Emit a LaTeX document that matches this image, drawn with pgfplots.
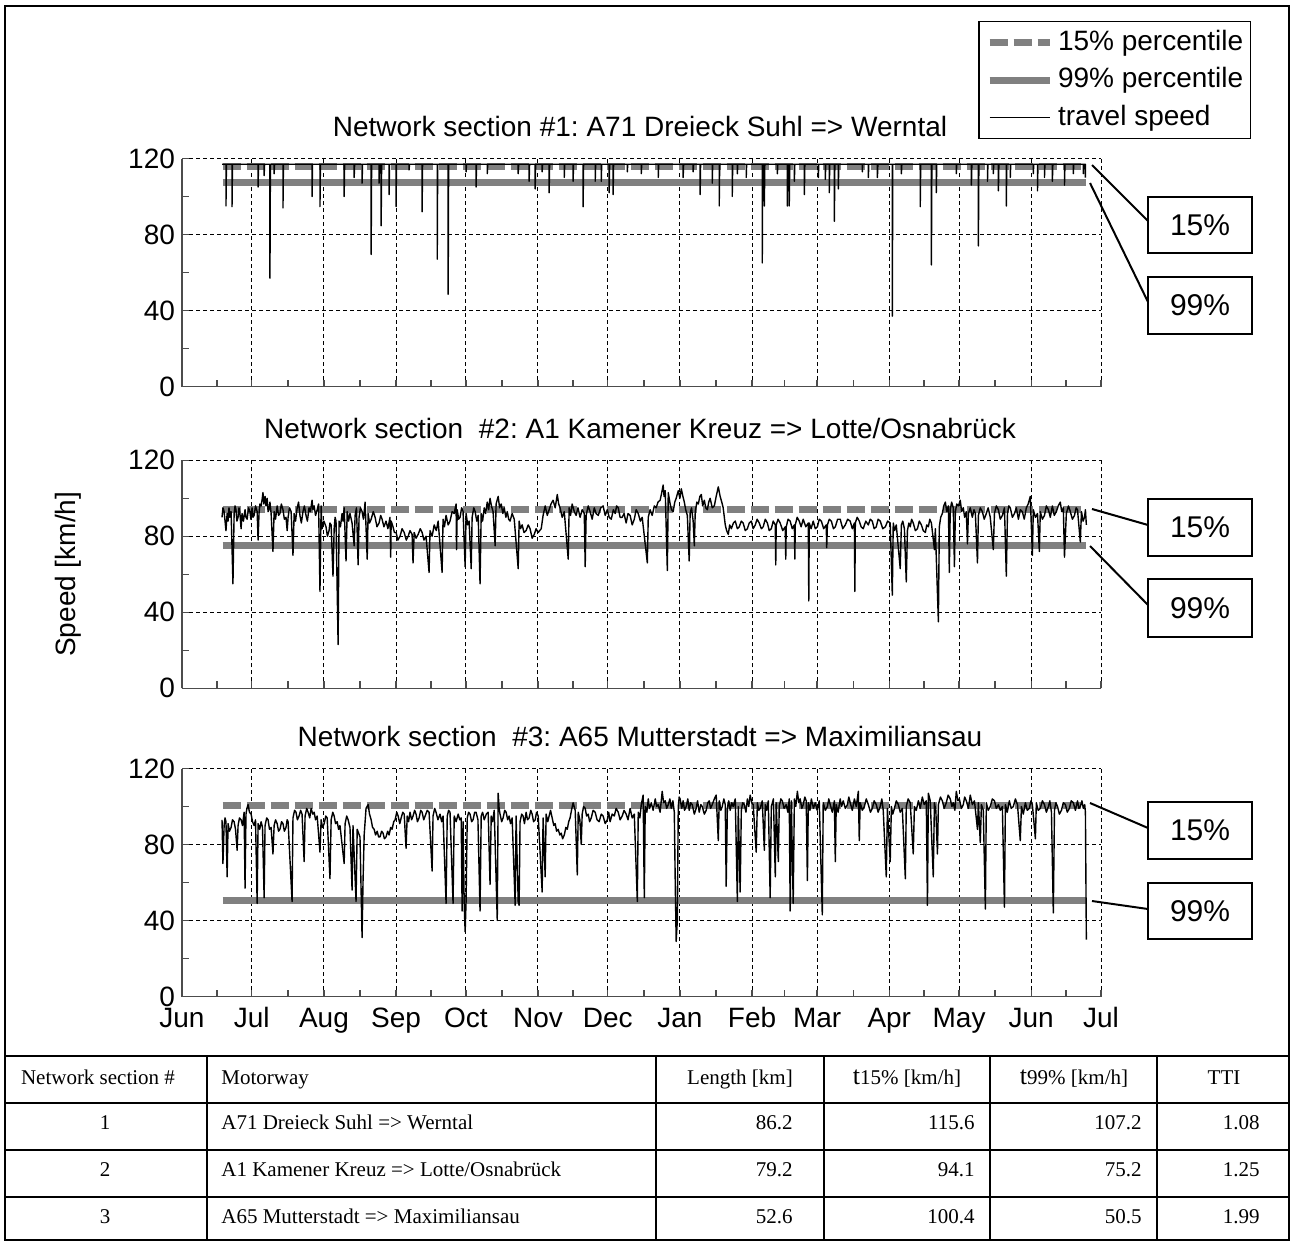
\documentclass[border=0pt]{standalone}
\usepackage{pgfplots}
\usepackage{pgfplotstable}
\pgfplotsset{compat=1.18}
\usepackage{fontspec}
\setmainfont{Liberation Sans}
\newfontfamily\tabfont{Liberation Serif}

\pgfplotstableread{
x y
17.2 117
18.9 117
18.9 95
19.1 117
21.5 117
21.5 94.6
21.7 117
32.7 117
32.7 105
32.9 117
35.3 117
35.3 111
35.5 117
37.8 117
37.8 57
38.0 117
39.6 117
39.6 112
39.8 117
43.4 117
43.4 94
43.6 117
55.9 117
55.9 100
56.1 117
59.3 117
59.3 94.7
59.5 117
69.7 117
69.7 100
69.9 117
74.0 117
74.0 110
74.2 117
77.4 117
77.4 107
77.6 117
81.3 117
81.3 69.5
81.5 117
84.7 117
84.7 107
84.9 117
85.6 117
85.6 84.6
85.8 117
89.0 117
89.0 101
89.2 117
92.0 117
92.0 94.7
92.2 117
97.6 117
97.6 114
97.8 117
103.2 117
103.2 92
103.4 117
109.7 117
109.7 67
109.9 117
114.4 117
114.4 48.5
114.6 117
122.1 117
122.1 113
122.3 117
126.4 117
126.4 105
126.6 117
131.2 117
131.2 112
131.4 117
144.5 117
144.5 112
144.7 117
149.2 117
149.2 108
149.4 117
151.8 117
151.8 104
152.0 117
154.8 117
154.8 113
155.0 117
157.8 117
157.8 102
158.0 117
164.3 117
164.3 110
164.5 117
168.1 117
168.1 108
168.3 117
172.4 117
172.4 94.6
172.6 117
177.6 117
177.6 108
177.8 117
180.2 117
180.2 108
180.4 117
183.6 117
183.6 102
183.8 117
185.3 117
185.3 101
185.5 117
191.4 117
191.4 113
191.6 117
197.4 117
197.4 112
197.6 117
204.7 117
204.7 110
204.9 117
215.4 117
215.4 110
215.6 117
219.7 117
219.7 113
219.9 117
222.7 117
222.7 101
222.9 117
227.9 117
227.9 107
228.1 117
230.9 117
230.9 95
231.1 117
236.5 117
236.5 100
236.7 117
238.7 117
238.7 112
238.9 117
242.5 117
242.5 110
242.7 117
249.4 117
249.4 65
249.6 117
250.3 117
250.3 95
250.5 117
255.9 117
255.9 112
256.1 117
260.2 117
260.2 95
260.4 117
261.0 117
261.0 95
261.2 117
263.2 117
263.2 108
263.4 117
267.5 117
267.5 101
267.7 117
273.5 117
273.5 110
273.7 117
276.5 117
276.5 109
276.7 117
278.2 117
278.2 102
278.4 117
280.4 117
280.4 87
280.6 117
282.1 117
282.1 104
282.3 117
292.4 117
292.4 113
292.6 117
295.0 117
295.0 110
295.2 117
298.9 117
298.9 110
299.1 117
305.3 117
305.3 37
305.5 117
309.2 117
309.2 112
309.4 117
317.3 117
317.3 94.7
317.5 117
322.1 117
322.1 64
322.3 117
324.2 117
324.2 102
324.4 117
332.8 117
332.8 112
333.0 117
339.3 117
339.3 106
339.5 117
342.3 117
342.3 74
342.5 117
346.2 117
346.2 108
346.4 117
348.7 117
348.7 112
348.9 117
350.9 117
350.9 103
351.1 117
354.3 117
354.3 95
354.5 117
356.0 117
356.0 110
356.2 117
365.9 117
365.9 112
366.1 117
367.7 117
367.7 103
367.9 117
370.7 117
370.7 110
370.9 117
374.1 117
374.1 108
374.3 117
379.3 117
379.3 106
379.5 117
383.1 117
383.1 112
383.3 117
387.4 117
387.4 112
387.6 117
388.3 117
388.3 110
}\speedA

\pgfplotstableread{
x y
17.2 90
17.6 95
18.1 93
18.9 83
19.4 92
19.8 88
20.2 95
20.6 90
21.1 93
21.9 55
22.4 92
22.8 96
23.2 94
23.6 88
24.1 90
24.5 95
24.9 92
25.4 84
25.8 92
26.4 88
27.1 94
27.5 90
28.0 89
28.6 95
29.2 93
29.6 89
30.1 95
30.5 90
31.0 91
31.6 96
32.3 93
32.7 78
33.1 92
33.5 97
34.0 96
34.4 99
34.8 103
35.2 97
35.7 101
36.1 96
36.6 100
37.0 93
37.4 94
37.8 98
38.3 92
39.1 72
39.6 93
40.2 89
40.9 96
41.5 91
42.1 92
42.7 97
43.4 94
44.0 89
44.7 90
45.2 83
45.6 90
46.2 95
46.9 93
47.7 70
48.2 92
48.8 88
49.5 95
50.1 98
50.7 91
51.3 87
52.0 93
52.6 96
53.3 91
53.9 88
54.6 95
55.2 93
55.9 99
56.3 94
56.8 96
57.4 91
58.1 94
58.7 97
59.3 51
59.8 96
60.2 84
61.0 88
61.9 85
62.5 80
63.2 83
63.6 87
64.1 86
64.9 59
65.4 84
65.8 90
66.2 88
67.1 23
67.5 88
68.1 85
68.8 92
69.2 88
69.7 95
70.5 67
71.0 93
71.6 88
72.2 92
73.1 87
74.0 75
74.4 91
75.0 95
75.7 65
76.1 90
76.7 95
77.4 93
78.0 89
78.7 98
79.6 68
80.0 92
80.6 87
81.3 89
82.2 93
83.0 90
83.8 85
84.7 87
85.4 91
86.0 89
86.8 85
87.7 88
88.5 84
89.4 90
89.7 69
89.9 88
90.7 85
91.3 82
92.0 82
92.8 78
93.7 80
94.6 84
95.5 82
96.4 78
97.2 80
98.0 83
98.9 81
99.3 66
99.8 82
100.6 79
101.5 81
102.4 84
103.2 82
104.0 78
104.9 80
106.2 61
106.6 83
107.5 80
108.4 86
109.3 83
110.1 88
111.8 61
112.2 89
112.8 85
113.5 91
114.4 86
115.2 88
116.1 93
117.0 92
117.8 97
118.0 73
118.3 94
118.9 89
119.5 90
120.2 95
120.8 93
121.7 64
122.1 92
122.8 86
123.4 88
124.3 63
124.7 90
125.4 95
126.0 93
126.7 88
127.3 91
128.1 55
128.6 92
129.2 88
129.9 95
130.5 92
131.2 98
131.8 94
132.4 100
133.0 96
133.7 93
134.6 75
135.0 97
135.9 101
136.5 95
137.2 97
137.9 92
138.5 95
139.2 90
139.8 93
140.4 89
141.0 88
141.9 92
142.8 89
144.5 63
144.9 88
145.5 84
146.2 86
147.0 82
147.9 83
148.8 86
149.6 84
150.5 79
151.4 81
152.2 84
153.1 82
154.4 84
155.2 91
156.1 96
157.0 91
157.8 94
158.6 97
159.5 99
160.4 95
161.3 102
161.9 97
162.5 95
163.4 90
164.3 93
166.0 68
166.4 95
167.0 91
167.7 97
168.6 93
169.4 91
170.2 95
171.1 90
172.0 94
172.9 92
173.3 64
173.7 91
174.6 96
175.4 93
176.3 89
177.2 95
178.0 92
178.9 91
180.0 95
181.0 96
181.9 91
182.8 94
183.6 90
184.5 89
185.4 94
186.2 92
186.8 96
187.5 95
188.3 90
189.2 90
190.0 92
190.9 87
191.7 92
192.6 91
193.5 86
194.4 89
195.2 94
196.1 92
197.0 88
197.8 90
200.0 66
200.4 90
201.2 94
202.1 91
203.0 96
203.8 95
204.6 98
205.5 99
206.2 103
206.8 107
207.2 101
207.7 104
208.6 62
209.0 103
209.8 97
210.4 94
211.1 93
211.8 98
212.4 100
213.3 104
214.0 100
214.6 105
215.3 101
215.9 98
216.5 94
217.2 91
218.0 67
218.4 92
219.0 95
219.7 88
220.2 75
220.6 93
221.3 98
221.9 97
222.6 101
223.2 102
223.8 96
224.5 99
225.1 95
225.8 94
226.4 98
227.0 100
227.9 95
228.8 96
229.6 101
230.5 106
231.3 101
232.0 98
232.6 95
233.5 86
234.1 83
234.8 81
235.4 86
236.1 84
237.0 87
237.8 88
238.7 84
239.5 85
240.4 88
241.2 87
242.1 83
243.0 84
243.8 87
244.7 88
245.5 84
246.4 86
247.2 89
248.1 87
249.0 84
249.8 85
250.7 89
251.6 87
252.4 83
253.3 84
254.1 88
255.0 86
255.2 65
255.4 86
256.2 89
257.1 87
258.2 83
259.3 85
259.5 68
259.7 85
260.5 89
261.4 88
262.3 84
263.2 86
263.4 68
263.6 86
264.4 90
265.3 88
266.1 85
267.0 89
268.1 85
269.2 87
269.4 46
269.6 87
270.4 84
271.3 88
272.2 84
273.1 85
273.9 89
274.8 88
275.8 84
276.9 86
277.1 74
277.4 86
278.2 89
279.1 88
280.0 84
280.8 85
281.8 89
282.9 89
284.0 84
285.1 86
286.1 89
287.2 88
288.1 84
289.0 87
289.2 51
289.4 87
290.2 90
291.1 88
291.9 85
292.8 84
293.9 88
295.0 86
295.8 89
296.7 88
297.5 84
298.4 85
299.2 89
300.1 88
301.2 84
302.3 85
303.3 88
304.4 87
305.3 49
305.7 87
306.3 83
307.0 86
308.7 63
309.2 86
309.8 88
310.5 84
311.3 56
311.8 83
312.4 87
313.0 85
313.6 89
314.3 87
315.2 83
316.1 84
316.9 88
317.8 86
318.6 83
319.5 82
320.1 86
320.8 85
321.4 89
322.1 87
323.4 73
323.8 84
325.1 35
325.5 85
326.1 90
326.8 92
327.4 96
328.1 98
328.7 93
329.4 96
329.8 61
330.2 94
330.8 98
331.5 95
332.0 64
332.4 93
333.0 97
333.7 96
334.5 99
335.1 93
335.8 95
336.4 90
337.1 93
337.6 76
338.0 92
338.8 95
339.7 90
340.4 94
341.0 92
341.9 66
342.3 91
343.1 95
344.0 93
344.8 89
345.7 92
346.5 95
347.4 90
348.7 73
349.2 92
350.0 96
350.9 94
351.7 89
352.6 91
353.5 95
354.3 59
354.8 92
355.4 96
356.0 95
356.9 90
357.8 92
358.6 95
359.5 89
360.3 94
361.2 93
362.0 89
362.9 95
363.7 97
364.6 101
365.5 70
365.9 94
366.8 90
367.7 92
368.5 72
368.9 93
369.8 89
370.7 91
371.5 96
372.4 94
373.2 90
374.1 96
374.9 91
375.8 93
376.6 96
377.5 98
378.1 93
378.8 95
379.3 69
380.1 92
381.0 96
381.8 93
382.7 89
383.6 91
384.3 95
384.9 94
386.1 77
386.6 93
387.3 88
387.9 90
388.3 94
388.7 86
}\speedB

\pgfplotstableread{
x y
17.2 93
17.6 70
18.1 90
18.5 94
18.9 92
19.4 63
19.8 91
20.4 87
21.1 89
21.7 93
22.4 92
23.0 88
23.7 77
24.1 90
24.7 94
25.4 93
26.0 90
26.7 97
27.1 57
27.5 96
27.9 99
28.4 101
29.0 97
29.7 96
30.3 92
31.0 90
31.6 93
32.3 49
32.7 91
33.4 88
34.0 92
34.6 89
35.3 52
35.7 90
36.4 94
37.0 93
37.6 88
38.3 89
39.1 75
39.6 90
40.2 93
40.9 91
41.5 87
42.1 88
42.8 92
43.4 91
44.0 87
44.7 89
45.2 93
45.6 92
47.3 50
47.7 94
48.4 98
49.0 97
49.6 93
50.3 95
51.0 98
51.6 96
52.5 71
52.9 95
53.6 99
54.2 97
54.9 94
55.5 99
56.2 96
56.8 97
57.4 93
58.1 95
59.3 76
59.8 93
60.4 89
61.1 91
61.8 95
62.4 94
63.6 62
64.1 93
64.8 97
65.4 95
66.0 91
66.7 92
67.3 88
67.9 90
69.7 70
70.1 91
70.8 95
71.4 93
72.2 89
73.1 56
73.5 90
74.8 50
75.3 88
75.9 86
76.5 84
77.4 31
77.8 60
78.3 85
79.1 99
80.0 101
80.6 96
81.3 93
81.9 89
82.6 88
83.2 85
83.9 87
84.5 84
85.1 84
85.8 87
86.4 86
87.0 83
87.7 84
88.4 87
89.0 85
89.7 89
90.3 88
91.0 92
91.6 93
92.3 97
92.9 95
93.6 91
94.2 94
94.9 97
95.5 96
96.3 78
96.8 95
97.4 92
98.0 97
98.7 93
99.3 95
100.0 98
100.6 96
101.2 92
101.9 94
102.6 98
103.2 97
103.9 93
104.5 95
105.4 98
106.2 97
107.5 66
107.9 95
108.6 99
109.2 97
110.0 93
110.9 96
111.6 92
112.2 95
113.5 49
114.0 95
114.6 98
115.2 97
116.5 49
117.0 95
117.8 92
118.7 96
119.4 93
120.0 94
120.4 45
120.8 92
121.3 48
121.7 34
122.1 50
122.6 94
123.2 97
123.8 96
124.5 92
125.1 93
125.8 97
126.4 97
127.2 93
128.1 45
128.6 95
129.2 97
129.9 93
130.8 96
131.6 97
132.4 59
132.9 95
133.5 92
134.2 98
135.5 40
135.9 107
136.3 99
136.7 96
137.4 92
138.0 94
138.7 98
139.3 97
140.0 93
140.6 95
141.2 91
141.9 94
143.2 48
143.6 95
144.5 50
144.9 48
145.3 92
146.0 96
146.6 95
147.2 91
147.9 97
148.5 93
149.2 94
149.9 98
150.5 96
151.1 92
151.8 93
152.4 97
153.1 95
154.8 55
155.2 94
156.1 63
156.5 96
157.2 92
157.8 95
158.4 98
159.1 94
159.8 90
160.4 91
161.0 87
161.7 88
162.4 85
163.0 86
163.6 83
164.3 85
165.0 89
165.6 88
166.2 92
166.8 94
167.4 98
168.1 102
169.0 98
169.9 64
170.3 97
171.0 93
171.6 80
172.0 96
172.6 100
173.3 99
173.9 95
174.6 96
175.2 92
175.9 94
176.7 98
177.6 97
178.4 93
179.3 92
180.2 96
181.0 95
181.9 91
182.8 93
183.4 97
184.0 92
184.9 96
185.8 95
186.6 99
187.5 97
188.3 93
189.2 95
190.0 98
190.9 96
191.7 93
192.6 99
193.5 94
194.4 96
195.7 50
196.1 97
196.8 94
197.4 101
198.2 106
198.7 52
199.1 100
199.8 97
200.4 104
201.0 99
201.7 102
202.5 98
203.4 104
204.0 100
204.7 101
205.5 97
206.4 108
207.0 102
207.7 103
208.3 99
209.0 101
209.7 104
210.3 99
211.0 103
211.6 97
212.0 60
212.4 29
212.9 40
213.3 100
213.7 105
214.1 104
214.8 99
215.4 103
216.0 98
216.7 100
217.4 104
218.0 98
218.6 102
219.3 101
220.2 96
221.0 99
221.6 103
222.3 97
223.0 101
223.6 100
224.5 96
225.3 98
226.0 102
226.6 103
227.2 99
227.9 101
228.8 104
229.6 106
230.5 82
230.9 103
231.6 98
232.2 100
232.9 104
233.5 101
233.9 58
234.4 99
235.0 103
235.6 98
236.3 102
236.9 100
237.8 104
238.7 50
239.1 100
239.9 55
240.4 98
241.0 102
241.7 101
242.4 97
243.0 104
243.6 100
244.2 106
244.9 102
245.5 101
246.8 76
247.3 102
247.9 98
248.5 99
249.4 103
250.3 77
250.7 101
251.3 98
252.0 103
252.8 52
253.3 100
254.2 104
255.0 63
255.4 102
256.3 71
256.7 100
257.4 104
258.0 103
258.8 99
259.7 101
260.4 97
261.0 104
261.4 45
261.9 103
262.7 49
263.2 104
263.8 100
264.5 108
265.1 102
265.7 104
266.4 99
267.0 101
267.7 105
268.3 103
268.8 61
269.2 102
269.9 98
270.5 104
271.4 99
272.2 102
273.0 98
273.9 103
275.2 43
275.6 102
276.5 98
277.4 100
278.0 104
278.6 101
279.5 97
280.4 103
280.8 71
281.2 101
282.0 97
282.9 104
283.5 100
284.2 103
285.1 99
286.0 101
286.6 105
287.2 102
288.1 98
289.0 104
289.8 100
290.7 108
291.1 82
291.5 102
292.4 98
293.3 100
294.1 104
295.0 101
295.9 97
296.7 99
297.5 103
298.4 101
299.2 97
300.1 100
300.8 104
301.4 98
302.7 63
303.2 99
304.4 71
304.9 100
305.5 96
306.2 99
307.0 103
307.9 101
308.7 97
309.6 99
310.9 62
311.3 100
312.1 104
313.0 102
314.3 75
314.8 100
315.6 98
316.5 103
317.3 99
318.2 105
319.0 101
319.9 103
320.4 48
320.8 107
321.6 103
322.9 63
323.4 102
324.0 98
324.7 75
325.1 101
326.0 105
326.8 103
327.6 99
328.5 102
329.3 106
330.2 104
330.9 100
331.5 102
332.2 98
332.8 108
333.5 103
334.1 104
335.0 99
335.8 101
336.4 105
337.1 103
338.0 99
338.8 106
339.7 101
340.6 103
341.9 88
342.3 102
343.1 81
343.6 101
344.4 98
345.3 46
345.7 102
346.5 98
347.4 100
348.3 104
349.2 103
350.0 99
350.9 101
351.7 98
352.6 100
353.5 47
353.9 101
354.7 97
355.6 103
356.4 99
357.3 100
358.2 104
359.1 101
360.3 82
360.8 100
361.6 96
362.5 102
363.3 98
364.2 99
364.9 103
365.5 101
366.8 83
367.2 102
368.0 98
368.9 99
369.8 103
370.7 101
371.5 97
372.4 100
373.0 103
373.7 97
374.5 44
375.0 98
375.6 102
376.3 100
377.1 96
378.0 98
378.8 102
379.7 101
380.5 97
381.4 99
382.2 103
383.1 102
384.0 98
384.9 103
385.5 99
386.1 100
386.8 103
387.4 99
388.0 101
388.3 97
388.7 30
}\speedC

\pgfplotsset{
  panel/.style={
    scale only axis, width=459.5pt, height=114pt,
    xmin=0, xmax=395, ymin=0, ymax=120,
    axis x line*=bottom, axis y line*=left,
    xtick={0,30,61,92,122,153,183,214,245,273,304,334,365,395},
    minor xtick={15,45.5,76.5,107,137.5,168,198.5,229.5,259,288.5,319,349.5,380},
    ytick={0,40,80,120}, minor ytick={20,60,100},
    grid=major,
    major grid style={black, line width=0.5pt, dash pattern=on 2pt off 1.5pt},
    axis line style={black!70, line width=0.7pt},
    every tick/.style={black!70, line width=0.7pt},
    major tick length=3.5pt, minor tick length=3.5pt,
    tick align=inside,
    ticklabel style={font=\fontsize{14}{16}\selectfont},
    xticklabel style={text height=10.5pt, text depth=3pt, yshift=-1.5pt},
    /pgf/number format/assume math mode=true,
    title style={font=\fontsize{14}{16}\selectfont, at={(axis description cs:0.4984,1)}, anchor=center, yshift=10pt},
    legend image code/.code={\draw[##1] (0pt,0pt) -- (30pt,0pt);},
  },
  p15/.style={gray, line width=3.5pt, dash pattern=on 9pt off 3pt},
  p99/.style={gray, line width=3.5pt},
  spd/.style={black, line width=0.7pt, line join=round},
}

\begin{document}
\frenchspacing
\begin{tikzpicture}
\useasboundingbox (0,0) rectangle (646.5pt,-620.5pt);

% Panel 1
\begin{axis}[panel, at={(91pt,-193.25pt)}, anchor=south west,
  xticklabels={},
  title={Network section \#1: A71 Dreieck Suhl => Werntal},
  legend style={at={(1.1632,1.603)}, anchor=north east, draw=black, line width=0.7pt,
    font=\fontsize{14}{16}\selectfont, inner xsep=3.5pt, inner ysep=3.75pt,
    nodes={inner sep=0pt, text height=10.5pt, text depth=3pt},
    row sep=5.25pt, column sep=2.5pt},
  legend cell align=left]
\addplot[p15] coordinates {(17.5,115.6) (388.5,115.6)};
\addplot[p99] coordinates {(17.5,107.2) (388.5,107.2)};
\addplot[spd] table[x=x,y=y] {\speedA};
\legend{15\% percentile, 99\% percentile, travel speed}
\end{axis}

% Panel 2
\begin{axis}[panel, at={(91pt,-344.15pt)}, anchor=south west,
  xticklabels={},
  title={Network section\ \ \#2: A1 Kamener Kreuz => Lotte/Osnabrück},
  ylabel={Speed [km/h]},
  ylabel style={font=\fontsize{14}{16}\selectfont, at={(axis description cs:-0.1241,0.5)}, rotate=0, anchor=center}]
\addplot[p15] coordinates {(17.5,94.1) (388.5,94.1)};
\addplot[p99] coordinates {(17.5,75.2) (388.5,75.2)};
\addplot[spd] table[x=x,y=y] {\speedB};
\end{axis}

% Panel 3
\begin{axis}[panel, at={(91pt,-498.25pt)}, anchor=south west,
  xticklabels={Jun,Jul,Aug,Sep,Oct,Nov,Dec,Jan,Feb,Mar,Apr,May,Jun,Jul},
  title={Network section\ \ \#3: A65 Mutterstadt => Maximiliansau}]
\addplot[p15] coordinates {(17.5,100.4) (388.5,100.4)};
\addplot[p99] coordinates {(17.5,50.5) (388.5,50.5)};
\addplot[spd] table[x=x,y=y] {\speedC};
\end{axis}

\begin{scope}[x=0.5pt,y=-0.5pt]
% outer frame
\draw[line width=1pt] (5,6) rectangle (1289,1240);
% table
\draw[line width=1pt] (5,1056) -- (1289,1056);
\draw[line width=1pt] (5,1103) -- (1289,1103);
\draw[line width=1pt] (5,1150) -- (1289,1150);
\draw[line width=1pt] (5,1197) -- (1289,1197);
\foreach \xx in {207,656,824,990,1157} \draw[line width=1pt] (\xx,1056) -- (\xx,1240);
\begin{scope}[every node/.style={font=\tabfont\fontsize{10.5}{12}\selectfont, inner sep=0pt, text height=8pt, text depth=2.5pt}]
\node at (98,1079) {Network section \#};
\node[anchor=west] at (221,1079) {Motorway};
\node at (740,1079) {Length [km]};
\node at (907,1079) {{\fontsize{13}{13}\selectfont t}15\% [km/h]};
\node at (1074,1079) {{\fontsize{13}{13}\selectfont t}99\% [km/h]};
\node at (1224,1079) {TTI};
\node at (105,1124) {1};
\node at (105,1171) {2};
\node at (105,1218) {3};
\node[anchor=west] at (221,1124) {A71 Dreieck Suhl => Werntal};
\node[anchor=west] at (221,1171) {A1 Kamener Kreuz => Lotte/Osnabrück};
\node[anchor=west] at (221,1218) {A65 Mutterstadt => Maximiliansau};
\node[anchor=east] at (793,1124) {86.2};
\node[anchor=east] at (793,1171) {79.2};
\node[anchor=east] at (793,1218) {52.6};
\node[anchor=east] at (975,1124) {115.6};
\node[anchor=east] at (975,1171) {94.1};
\node[anchor=east] at (975,1218) {100.4};
\node[anchor=east] at (1142,1124) {107.2};
\node[anchor=east] at (1142,1171) {75.2};
\node[anchor=east] at (1142,1218) {50.5};
\node[anchor=east] at (1260,1124) {1.08};
\node[anchor=east] at (1260,1171) {1.25};
\node[anchor=east] at (1260,1218) {1.99};
\end{scope}
% callouts
\begin{scope}[line width=1pt, every node/.style={font=\fontsize{15}{17}\selectfont}]
\draw (1092,165) -- (1148,221);
\draw (1090,183) -- (1148,302);
\draw (1148,197) rectangle (1252,253); \node at (1200,225) {15\%};
\draw (1148,277) rectangle (1252,334); \node at (1200,305.5) {99\%};
\draw (1092,509) -- (1148,525);
\draw (1090,546) -- (1148,605);
\draw (1148,499) rectangle (1252,556); \node at (1200,527.5) {15\%};
\draw (1148,579) rectangle (1252,637); \node at (1200,608) {99\%};
\draw (1090,803) -- (1148,828);
\draw (1092,901) -- (1148,909);
\draw (1148,802) rectangle (1252,859); \node at (1200,830.5) {15\%};
\draw (1148,883) rectangle (1252,939); \node at (1200,911) {99\%};
\end{scope}
\end{scope}
\end{tikzpicture}
\end{document}
